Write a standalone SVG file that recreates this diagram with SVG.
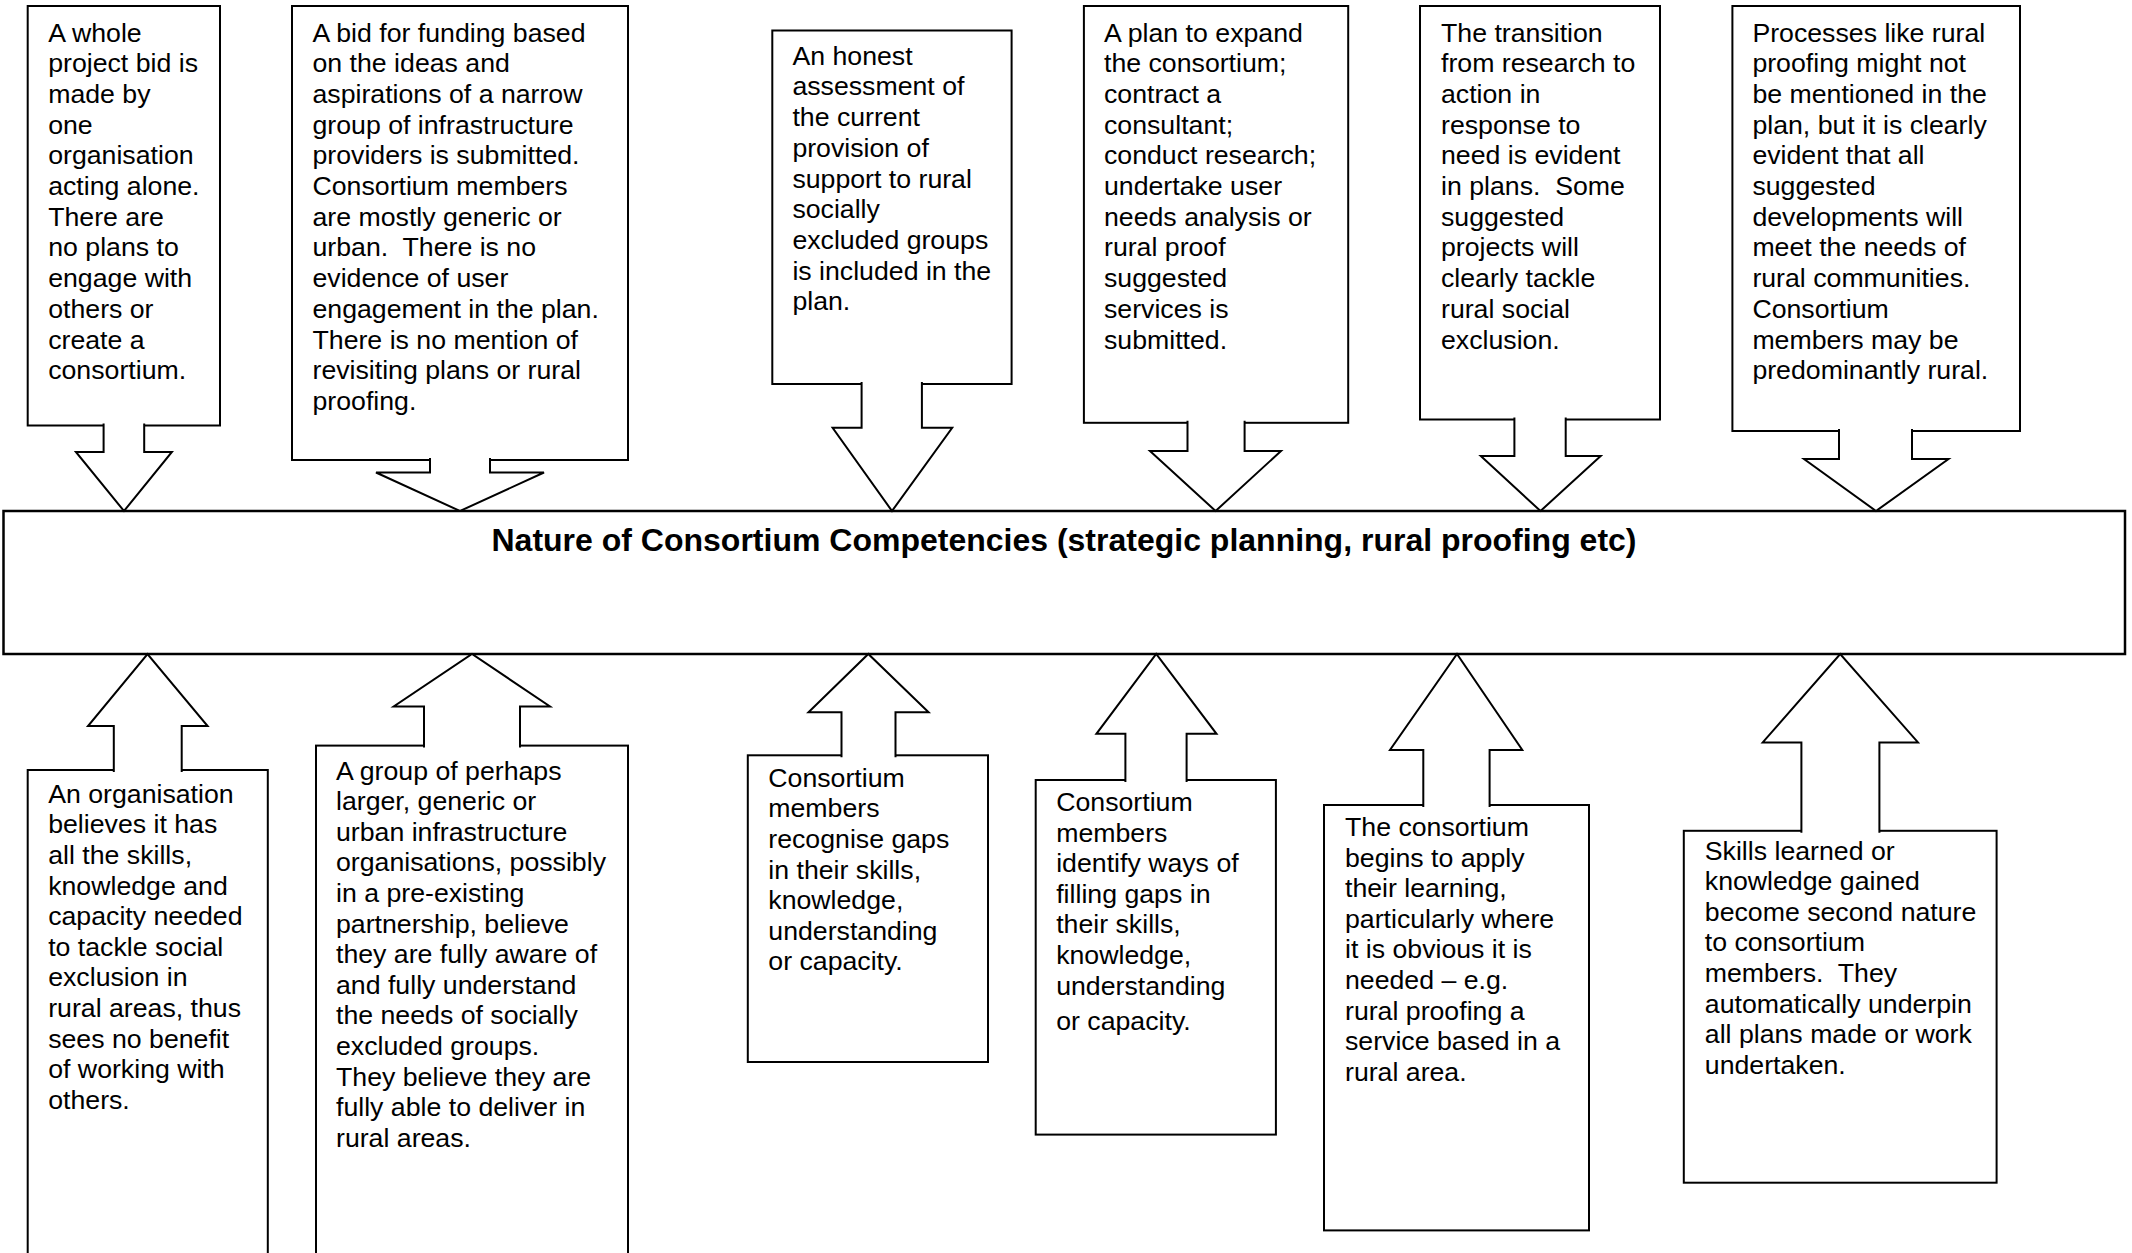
<svg xmlns="http://www.w3.org/2000/svg" width="2132" height="1253" viewBox="0 0 2132 1253">
<style>
.bg{fill:#fff}
.box{fill:#fff;stroke:#000;stroke-width:2}
.main{fill:#fff;stroke:#000;stroke-width:2.5}
.arr{fill:#fff;stroke:#000;stroke-width:2;stroke-linejoin:miter}
.t{font-family:"Liberation Sans",Arial,sans-serif;font-size:26.7px;fill:#000}
.title{font-family:"Liberation Sans",Arial,sans-serif;font-size:32px;font-weight:bold;fill:#000}
</style>
<rect class="bg" x="0" y="0" width="2132" height="1253"/>

<g id="main">
<rect class="main" x="3.5" y="511" width="2121.5" height="143"/>
<text class="title" x="1064" y="551" text-anchor="middle">Nature of Consortium Competencies (strategic planning, rural proofing etc)</text>
</g>

<g id="t1">
<rect class="box" x="27.7" y="6" width="192.3" height="419.5"/>
<text class="t" y="41.5"><tspan x="48.2">A whole</tspan><tspan x="48.2" dy="30.7">project bid is</tspan><tspan x="48.2" dy="30.7">made by</tspan><tspan x="48.2" dy="30.7">one</tspan><tspan x="48.2" dy="30.7">organisation</tspan><tspan x="48.2" dy="30.7">acting alone.</tspan><tspan x="48.2" dy="30.7">There are</tspan><tspan x="48.2" dy="30.7">no plans to</tspan><tspan x="48.2" dy="30.7">engage with</tspan><tspan x="48.2" dy="30.7">others or</tspan><tspan x="48.2" dy="30.7">create a</tspan><tspan x="48.2" dy="30.7">consortium.</tspan></text>
</g>

<g id="t2">
<rect class="box" x="292" y="6" width="336" height="454"/>
<text class="t" y="41.5"><tspan x="312.5">A bid for funding based</tspan><tspan x="312.5" dy="30.7">on the ideas and</tspan><tspan x="312.5" dy="30.7">aspirations of a narrow</tspan><tspan x="312.5" dy="30.7">group of infrastructure</tspan><tspan x="312.5" dy="30.7">providers is submitted.</tspan><tspan x="312.5" dy="30.7">Consortium members</tspan><tspan x="312.5" dy="30.7">are mostly generic or</tspan><tspan x="312.5" dy="30.7">urban.&#160; There is no</tspan><tspan x="312.5" dy="30.7">evidence of user</tspan><tspan x="312.5" dy="30.7">engagement in the plan.</tspan><tspan x="312.5" dy="30.7">There is no mention of</tspan><tspan x="312.5" dy="30.7">revisiting plans or rural</tspan><tspan x="312.5" dy="30.7">proofing.</tspan></text>
</g>

<g id="t3">
<rect class="box" x="772.3" y="30.5" width="239.3" height="353.5"/>
<text class="t" y="64.7"><tspan x="792.4">An honest</tspan><tspan x="792.4" dy="30.7">assessment of</tspan><tspan x="792.4" dy="30.7">the current</tspan><tspan x="792.4" dy="30.7">provision of</tspan><tspan x="792.4" dy="30.7">support to rural</tspan><tspan x="792.4" dy="30.7">socially</tspan><tspan x="792.4" dy="30.7">excluded groups</tspan><tspan x="792.4" dy="30.7">is included in the</tspan><tspan x="792.4" dy="30.7">plan.</tspan></text>
</g>

<g id="t4">
<rect class="box" x="1083.9" y="6" width="264.3" height="416.8"/>
<text class="t" y="41.5"><tspan x="1104">A plan to expand</tspan><tspan x="1104" dy="30.7">the consortium;</tspan><tspan x="1104" dy="30.7">contract a</tspan><tspan x="1104" dy="30.7">consultant;</tspan><tspan x="1104" dy="30.7">conduct research;</tspan><tspan x="1104" dy="30.7">undertake user</tspan><tspan x="1104" dy="30.7">needs analysis or</tspan><tspan x="1104" dy="30.7">rural proof</tspan><tspan x="1104" dy="30.7">suggested</tspan><tspan x="1104" dy="30.7">services is</tspan><tspan x="1104" dy="30.7">submitted.</tspan></text>
</g>

<g id="t5">
<rect class="box" x="1420" y="6" width="240" height="413.5"/>
<text class="t" y="41.5"><tspan x="1441">The transition</tspan><tspan x="1441" dy="30.7">from research to</tspan><tspan x="1441" dy="30.7">action in</tspan><tspan x="1441" dy="30.7">response to</tspan><tspan x="1441" dy="30.7">need is evident</tspan><tspan x="1441" dy="30.7">in plans.&#160; Some</tspan><tspan x="1441" dy="30.7">suggested</tspan><tspan x="1441" dy="30.7">projects will</tspan><tspan x="1441" dy="30.7">clearly tackle</tspan><tspan x="1441" dy="30.7">rural social</tspan><tspan x="1441" dy="30.7">exclusion.</tspan></text>
</g>

<g id="t6">
<rect class="box" x="1732.4" y="6" width="287.6" height="425"/>
<text class="t" y="41.5"><tspan x="1752.4">Processes like rural</tspan><tspan x="1752.4" dy="30.7">proofing might not</tspan><tspan x="1752.4" dy="30.7">be mentioned in the</tspan><tspan x="1752.4" dy="30.7">plan, but it is clearly</tspan><tspan x="1752.4" dy="30.7">evident that all</tspan><tspan x="1752.4" dy="30.7">suggested</tspan><tspan x="1752.4" dy="30.7">developments will</tspan><tspan x="1752.4" dy="30.7">meet the needs of</tspan><tspan x="1752.4" dy="30.7">rural communities.</tspan><tspan x="1752.4" dy="30.7">Consortium</tspan><tspan x="1752.4" dy="30.7">members may be</tspan><tspan x="1752.4" dy="30.7">predominantly rural.</tspan></text>
</g>

<g id="b1">
<rect class="box" x="27.7" y="770" width="240.1" height="500"/>
<text class="t" y="802.7"><tspan x="48.2">An organisation</tspan><tspan x="48.2" dy="30.6">believes it has</tspan><tspan x="48.2" dy="30.6">all the skills,</tspan><tspan x="48.2" dy="30.6">knowledge and</tspan><tspan x="48.2" dy="30.6">capacity needed</tspan><tspan x="48.2" dy="30.6">to tackle social</tspan><tspan x="48.2" dy="30.6">exclusion in</tspan><tspan x="48.2" dy="30.6">rural areas, thus</tspan><tspan x="48.2" dy="30.6">sees no benefit</tspan><tspan x="48.2" dy="30.6">of working with</tspan><tspan x="48.2" dy="30.6">others.</tspan></text>
</g>

<g id="b2">
<rect class="box" x="316" y="745.6" width="312" height="530"/>
<text class="t" y="779.5"><tspan x="336">A group of perhaps</tspan><tspan x="336" dy="30.6">larger, generic or</tspan><tspan x="336" dy="30.6">urban infrastructure</tspan><tspan x="336" dy="30.6">organisations, possibly</tspan><tspan x="336" dy="30.6">in a pre-existing</tspan><tspan x="336" dy="30.6">partnership, believe</tspan><tspan x="336" dy="30.6">they are fully aware of</tspan><tspan x="336" dy="30.6">and fully understand</tspan><tspan x="336" dy="30.6">the needs of socially</tspan><tspan x="336" dy="30.6">excluded groups.</tspan><tspan x="336" dy="30.6">They believe they are</tspan><tspan x="336" dy="30.6">fully able to deliver in</tspan><tspan x="336" dy="30.6">rural areas.</tspan></text>
</g>

<g id="b3">
<rect class="box" x="747.8" y="755.3" width="240.2" height="306.7"/>
<text class="t" y="786.7"><tspan x="768.3">Consortium</tspan><tspan x="768.3" dy="30.6">members</tspan><tspan x="768.3" dy="30.6">recognise gaps</tspan><tspan x="768.3" dy="30.6">in their skills,</tspan><tspan x="768.3" dy="30.6">knowledge,</tspan><tspan x="768.3" dy="30.6">understanding</tspan><tspan x="768.3" dy="30.6">or capacity.</tspan></text>
</g>

<g id="b4">
<rect class="box" x="1035.7" y="780" width="240.2" height="354.6"/>
<text class="t" y="811"><tspan x="1056.2">Consortium</tspan><tspan x="1056.2" dy="30.6">members</tspan><tspan x="1056.2" dy="30.6">identify ways of</tspan><tspan x="1056.2" dy="30.6">filling gaps in</tspan><tspan x="1056.2" dy="30.6">their skills,</tspan><tspan x="1056.2" dy="30.6">knowledge,</tspan><tspan x="1056.2" dy="30.6">understanding</tspan><tspan x="1056.2" dy="35">or capacity.</tspan></text>
</g>

<g id="b5">
<rect class="box" x="1324" y="805" width="265" height="425.4"/>
<text class="t" y="836"><tspan x="1345">The consortium</tspan><tspan x="1345" dy="30.6">begins to apply</tspan><tspan x="1345" dy="30.6">their learning,</tspan><tspan x="1345" dy="30.6">particularly where</tspan><tspan x="1345" dy="30.6">it is obvious it is</tspan><tspan x="1345" dy="30.6">needed – e.g.</tspan><tspan x="1345" dy="30.6">rural proofing a</tspan><tspan x="1345" dy="30.6">service based in a</tspan><tspan x="1345" dy="30.6">rural area.</tspan></text>
</g>

<g id="b6">
<rect class="box" x="1683.8" y="830.8" width="312.8" height="351.9"/>
<text class="t" y="859.5"><tspan x="1704.8">Skills learned or</tspan><tspan x="1704.8" dy="30.6">knowledge gained</tspan><tspan x="1704.8" dy="30.6">become second nature</tspan><tspan x="1704.8" dy="30.6">to consortium</tspan><tspan x="1704.8" dy="30.6">members.&#160; They</tspan><tspan x="1704.8" dy="30.6">automatically underpin</tspan><tspan x="1704.8" dy="30.6">all plans made or work</tspan><tspan x="1704.8" dy="30.6">undertaken.</tspan></text>
</g>

<g id="connectors">
<polyline class="arr" points="144.2,423.5 144.2,452 171.9,452 124,511 75.9,452 103.6,452 103.6,423.5"/>
<polyline class="arr" points="490,458 490,472.5 544,472.5 460,511 376,472.5 430,472.5 430,458"/>
<polyline class="arr" points="921.9,382 921.9,427.8 952.2,427.8 892,511 832.6,427.8 861.6,427.8 861.6,382"/>
<polyline class="arr" points="1244.6,420.8 1244.6,451 1281,451 1215.6,511 1150,451 1187.5,451 1187.5,420.8"/>
<polyline class="arr" points="1565.7,417.5 1565.7,456 1600.7,456 1540.5,511 1480.8,456 1514.4,456 1514.4,417.5"/>
<polyline class="arr" points="1912,429 1912,459 1948.5,459 1876,511 1804,459 1839,459 1839,429"/>
<polyline class="arr" points="113.8,772 113.8,726 88,726 147.5,654 207.6,726 181.7,726 181.7,772"/>
<polyline class="arr" points="424,747.6 424,706.5 393.7,706.5 472,654 550,706.5 520,706.5 520,747.6"/>
<polyline class="arr" points="841.5,757.3 841.5,712.3 808.5,712.3 868.3,654 928.6,712.3 895.5,712.3 895.5,757.3"/>
<polyline class="arr" points="1125.4,782 1125.4,733.8 1096.4,733.8 1156.2,654 1216.5,733.8 1186.6,733.8 1186.6,782"/>
<polyline class="arr" points="1423.3,807 1423.3,750 1390,750 1457,654 1522.3,750 1489.6,750 1489.6,807"/>
<polyline class="arr" points="1801.4,832.8 1801.4,742.4 1762.7,742.4 1840.2,654 1918,742.4 1879.4,742.4 1879.4,832.8"/>
</g>
</svg>
